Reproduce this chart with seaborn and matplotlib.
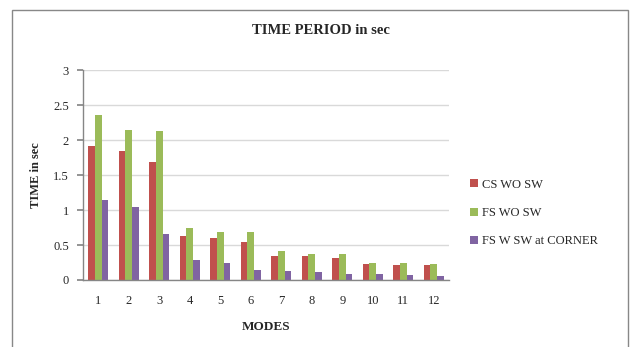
import matplotlib
matplotlib.use("Agg")
import matplotlib.pyplot as plt
import seaborn as sns
import pandas as pd
from matplotlib.patches import Rectangle

modes = ["1", "2", "3", "4", "5", "6", "7", "8", "9", "10", "11", "12"]
cs_wo_sw = [1.91, 1.84, 1.69, 0.63, 0.60, 0.55, 0.35, 0.34, 0.31, 0.23, 0.22, 0.21]
fs_wo_sw = [2.36, 2.14, 2.13, 0.75, 0.68, 0.68, 0.41, 0.37, 0.37, 0.25, 0.24, 0.23]
fs_w_sw_corner = [1.15, 1.05, 0.66, 0.28, 0.24, 0.14, 0.13, 0.11, 0.09, 0.08, 0.07, 0.06]
series_names = ["CS WO SW", "FS WO SW", "FS W SW at CORNER"]
colors = ["#C0504D", "#9BBB59", "#8064A2"]
yticks = [0, 0.5, 1, 1.5, 2, 2.5, 3]
ytick_labels = ["0", "0.5", "1", "1.5", "2", "2.5", "3"]

rows = []
for name, vals in zip(series_names, [cs_wo_sw, fs_wo_sw, fs_w_sw_corner]):
    for m, v in zip(modes, vals):
        rows.append({"Mode": m, "Series": name, "Value": v})
df = pd.DataFrame(rows)

sns.set_theme(style="white")
plt.rcParams["font.family"] = ["Liberation Serif", "DejaVu Serif"]

W, H = 632, 347
fig = plt.figure(figsize=(W / 100, H / 100), dpi=100)
ax = fig.add_axes([83 / W, 1 - 280 / H, (449 - 83) / W, (280 - 70) / H])

sns.barplot(data=df, x="Mode", y="Value", hue="Series", order=modes,
            hue_order=series_names, palette=colors, width=0.66, gap=0,
            saturation=1, ax=ax, legend=True, linewidth=0)

ax.set_ylim(0, 3)
ax.set_xlim(-0.5, 11.5)
ax.set_yticks(yticks)
ax.set_yticklabels(ytick_labels, fontsize=9)
ax.tick_params(axis="x", labelsize=9, length=0, pad=11)
ax.tick_params(axis="y", length=4, color="#868686", direction="out", pad=6, left=True)
ax.yaxis.grid(True, color="#D9D9D9", linewidth=1)
ax.set_axisbelow(True)
for s in ["top", "right"]:
    ax.spines[s].set_visible(False)
for s in ["left", "bottom"]:
    ax.spines[s].set_color("#868686")
    ax.spines[s].set_linewidth(1)

ax.set_xlabel("MODES", fontsize=9.5, fontweight="bold", labelpad=10)
ax.set_ylabel("TIME in sec", fontsize=9, fontweight="bold", labelpad=8)

leg = ax.legend(loc="center left", bbox_to_anchor=((459 - 83) / (449 - 83), (280 - 213) / 210),
                frameon=False, fontsize=9, handlelength=0.6, handleheight=0.6,
                handletextpad=0.3, labelspacing=1.3)

fig.text(321 / W, 1 - 31 / H, "TIME PERIOD in sec", ha="center", va="center",
         fontsize=10.5, fontweight="bold")

fig.patches.append(Rectangle((12 / W, -0.05), (628 - 12) / W, 1.05 - 10 / H,
                             transform=fig.transFigure, fill=False,
                             edgecolor="#888888", linewidth=1))

fig.savefig("out.png", dpi=100)
